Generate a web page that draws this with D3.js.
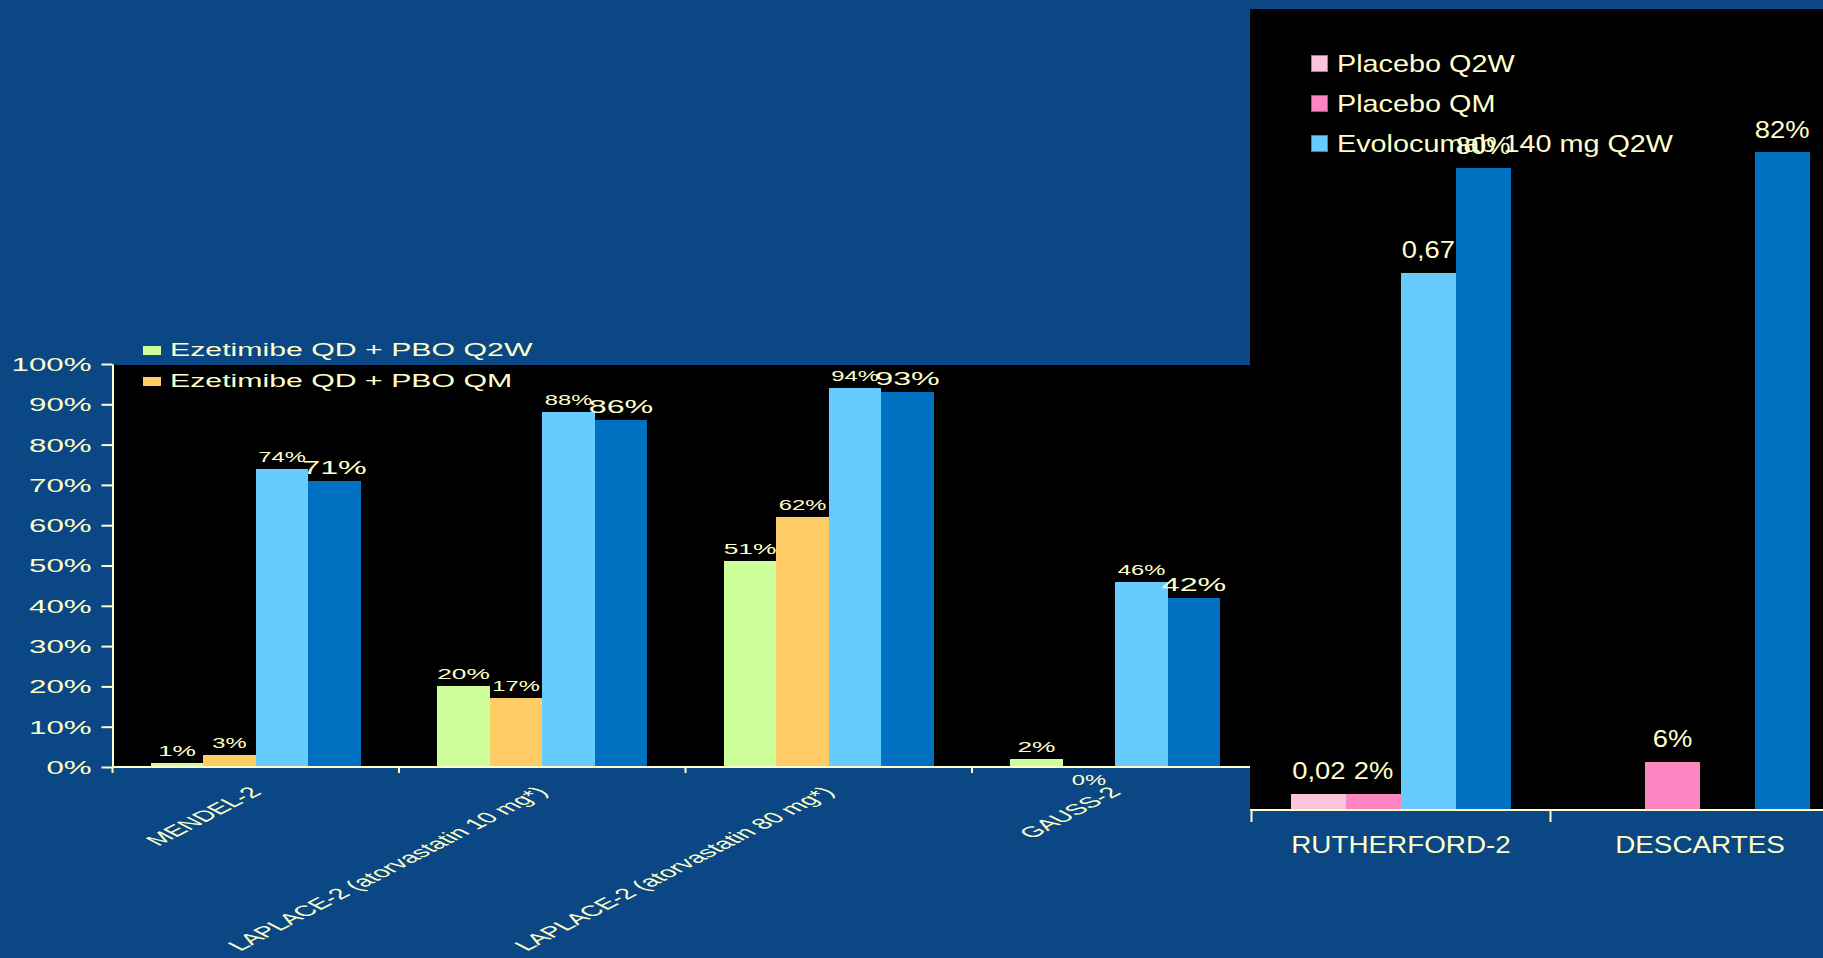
<!DOCTYPE html>
<html><head><meta charset="utf-8">
<script src="https://cdn.jsdelivr.net/npm/d3@7"></script>
<style>html,body{margin:0;padding:0;background:#0A4784;overflow:hidden}text{font-family:"Liberation Sans",Arial,sans-serif}rect{shape-rendering:crispEdges}</style>
</head><body><svg id="c" width="1823" height="958"></svg>
<script>
// ---------- data: left chart ----------
const leftCats = ["MENDEL-2","LAPLACE-2 (atorvastatin 10 mg*)","LAPLACE-2 (atorvastatin 80 mg*)","GAUSS-2"];
const leftSeries = ["Ezetimibe QD + PBO Q2W","Ezetimibe QD + PBO QM","Evolocumab 140 mg Q2W","Evolocumab 140 mg QM"];
const ezeQ2W = [1,20,51,2];
const ezeQM  = [3,17,62,0];
const evoQ2W = [74,88,94,46];
const evoQM  = [71,86,93,42];
const leftTicks = [0,10,20,30,40,50,60,70,80,90,100];
const leftLegendCount = 2;
// ---------- data: right chart ----------
const rightCats = ["RUTHERFORD-2","DESCARTES"];
const rightSeries = ["Placebo Q2W","Placebo QM","Evolocumab 140 mg Q2W","Evolocumab 140 mg QM"];
const pboQ2W_R = [2,null];
const pboQM_R  = [2,6];
const evoQ2W_R = [67,null];
const evoQM_R  = [80,82];
const pboQ2W_RLabels = ["0,02",""];
const pboQM_RLabels  = ["2%","6%"];
const evoQ2W_RLabels = ["0,67",""];
const evoQM_RLabels  = ["80%","82%"];
const rightLegendCount = 3;

// ---------- styles ----------
const BG="#0A4784", CREAM="#FFFFCC";
const leftColors=["#CCFF99","#FFCC66","#66CCFF","#0070C0"];
const rightColors=["#F9C4DC","#FF85C2","#66CCFF","#0070C0"];
const leftLabelSize=[15.5,14,14,19];
const SX=1.7;

const svg=d3.select("#c");
svg.append("rect").attr("width",1823).attr("height",958).attr("fill",BG);

// ================= LEFT CHART =================
const L={x0:112.5,x1:1258.5,yB:767,yT:364};
const xL=d3.scaleBand().domain(leftCats).range([L.x0,L.x1]).padding(0);
const xLi=d3.scaleBand().domain(d3.range(4)).range([xL.bandwidth()*0.1335,xL.bandwidth()*(1-0.1335)]).padding(0);
const yL=d3.scaleLinear().domain([0,100]).range([L.yB,L.yT]);
svg.append("rect").attr("x",L.x0).attr("y",L.yT+1).attr("width",1250-L.x0).attr("height",L.yB-L.yT).attr("fill","#000");

const leftData=[ezeQ2W,ezeQM,evoQ2W,evoQM];
const gL=svg.append("g");
leftCats.forEach((c,ci)=>{
  leftData.forEach((arr,si)=>{
    const v=arr[ci]; if(v==null) return;
    const x=xL(c)+xLi(si);
    gL.append("rect").attr("x",x).attr("y",yL(v)).attr("width",xLi.bandwidth()).attr("height",yL(0)-yL(v)).attr("fill",leftColors[si]);
    const ty = v===0 ? yL(0)+18 : yL(v)-7;
    gL.append("text").attr("transform",`translate(${x+xLi.bandwidth()/2},${ty}) scale(${SX},1)`)
      .attr("text-anchor","middle").attr("fill",CREAM).attr("font-size",leftLabelSize[si]).text(v+"%");
  });
});

// y axis
const yAx=svg.append("g").attr("transform",`translate(${L.x0},0)`)
  .call(d3.axisLeft(yL).tickValues(leftTicks).tickFormat(d=>d+"%").tickSize(11).tickSizeOuter(0));
yAx.select(".domain").attr("stroke",CREAM).attr("stroke-width",2);
yAx.selectAll(".tick line").attr("stroke",CREAM).attr("stroke-width",2);
yAx.selectAll(".tick text").attr("fill",CREAM).attr("font-size",18).attr("x",-12).attr("dy","0.36em")
  .attr("transform",`scale(${1.74},1)`);
// x axis
svg.append("line").attr("x1",L.x0).attr("x2",1250).attr("y1",L.yB).attr("y2",L.yB).attr("stroke",CREAM).attr("stroke-width",2);
svg.selectAll(".xtl").data(leftCats).enter().append("line")
  .attr("x1",d=>xL(d)).attr("x2",d=>xL(d)).attr("y1",L.yB).attr("y2",L.yB+6).attr("stroke",CREAM).attr("stroke-width",2);
svg.selectAll(".xlab").data(leftCats).enter().append("text")
  .attr("transform",d=>`translate(${xL(d)+xL.bandwidth()/2+7},793) scale(1.95,1) rotate(-45)`)
  .attr("text-anchor","end").attr("fill",CREAM).attr("font-size",15).text(d=>d);

// left legend
leftSeries.slice(0,leftLegendCount).forEach((s,i)=>{
  const yb=[356,387][i];
  svg.append("rect").attr("x",143).attr("y",yb-10).attr("width",18).attr("height",9).attr("fill",leftColors[i]);
  svg.append("text").attr("transform",`translate(170,${yb}) scale(1.73,1)`).attr("fill",CREAM).attr("font-size",17.5).text(s);
});

// ================= RIGHT CHART =================
const R={x0:1251.5,yB:810,yT:5};
svg.append("rect").attr("x",1250).attr("y",9).attr("width",1823-1250).attr("height",R.yB-9).attr("fill","#000");
const xR=d3.scaleBand().domain(rightCats).range([R.x0,R.x0+2*299]).padding(0);
const xRi=d3.scaleBand().domain(d3.range(4)).range([xR.bandwidth()*0.1335,xR.bandwidth()*(1-0.1335)]).padding(0);
const yR=d3.scaleLinear().domain([0,100]).range([R.yB,R.yT+3]);
const rightData=[pboQ2W_R,pboQM_R,evoQ2W_R,evoQM_R];
const rightLabels=[pboQ2W_RLabels,pboQM_RLabels,evoQ2W_RLabels,evoQM_RLabels];
const gR=svg.append("g");
rightCats.forEach((c,ci)=>{
  rightData.forEach((arr,si)=>{
    const v=arr[ci]; if(v==null) return;
    const x=xR(c)+xRi(si);
    gR.append("rect").attr("x",x).attr("y",yR(v)).attr("width",xRi.bandwidth()).attr("height",yR(0)-yR(v)).attr("fill",rightColors[si]);
  });
});
// right legend
rightSeries.slice(0,rightLegendCount).forEach((s,i)=>{
  const yb=72+40*i;
  svg.append("rect").attr("x",1311.5).attr("y",yb-16.5).attr("width",16).attr("height",16)
    .attr("fill",rightColors[i]).attr("stroke",d3.color(rightColors[i]).darker(1.2)).attr("stroke-width",1);
  svg.append("text").attr("transform",`translate(1337,${yb}) scale(1.2,1)`).attr("fill",CREAM).attr("font-size",24).text(s);
});
// right labels
rightCats.forEach((c,ci)=>{
  rightData.forEach((arr,si)=>{
    const v=arr[ci]; if(v==null) return;
    const x=xR(c)+xRi(si)+xRi.bandwidth()/2;
    svg.append("text").attr("transform",`translate(${x},${yR(v)-14.5}) scale(1.14,1)`)
      .attr("text-anchor","middle").attr("fill",CREAM).attr("font-size",24).text(rightLabels[si][ci]);
  });
});
// right axis
svg.append("line").attr("x1",1250).attr("x2",1823).attr("y1",R.yB).attr("y2",R.yB).attr("stroke",CREAM).attr("stroke-width",2);
svg.selectAll(".rtl").data(rightCats).enter().append("line")
  .attr("x1",d=>xR(d)).attr("x2",d=>xR(d)).attr("y1",R.yB).attr("y2",R.yB+12).attr("stroke",CREAM).attr("stroke-width",2);
svg.selectAll(".rlab").data(rightCats).enter().append("text")
  .attr("transform",d=>`translate(${xR(d)+xR.bandwidth()/2},853) scale(1.16,1)`)
  .attr("text-anchor","middle").attr("fill",CREAM).attr("font-size",24).text(d=>d);
</script></body></html>
